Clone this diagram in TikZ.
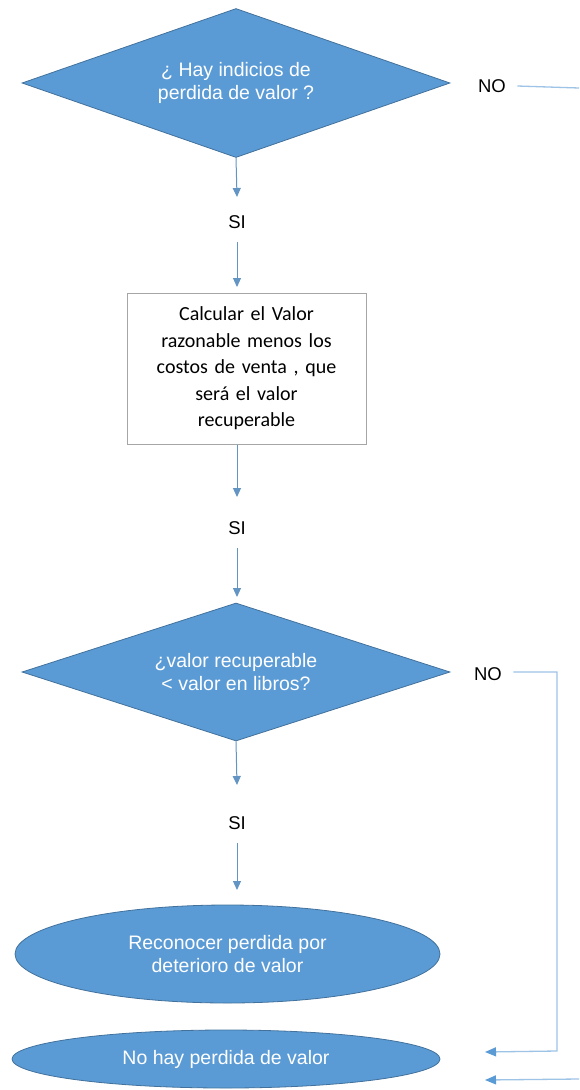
\documentclass[tikz,border=0pt]{standalone}
\usepackage{fontspec}
\setmainfont{Liberation Sans}
\newfontfamily\calfont{Carlito}
\usetikzlibrary{shapes.geometric,arrows.meta}
\definecolor{bfill}{HTML}{5B9BD5}
\definecolor{bdraw}{HTML}{41719C}
\definecolor{arr}{HTML}{5B9BD5}
\definecolor{lline}{HTML}{9DC3E6}
\tikzset{
  dec/.style={diamond,aspect=2.86,fill=bfill,draw=bdraw,line width=0.8pt,inner sep=0pt,text=white,align=center,font=\fontsize{19.5}{23.5}\selectfont},
  oval/.style={ellipse,fill=bfill,draw=bdraw,line width=0.8pt,inner sep=0pt,text=white,align=center,font=\fontsize{19.5}{22.5}\selectfont},
  procbox/.style={rectangle,draw=gray!70,line width=1pt,fill=white,align=center,font=\calfont\fontsize{20}{26.5}\selectfont},
  lbl/.style={font=\fontsize{18.5}{21}\selectfont},
  flow/.style={draw=arr!80!gray,line width=1pt,-{Triangle[width=8pt,length=9pt]}},
  back/.style={draw=lline,line width=1.3pt},
  backarr/.style={draw=lline,line width=1.3pt,-{Triangle[width=9pt,length=11pt,fill=arr,color=arr]}}
}
\begin{document}
\begin{tikzpicture}[x=1pt,y=-1pt]
\useasboundingbox (0,0) rectangle (579,1090);
\node[dec,minimum width=428pt,minimum height=149pt] (d1) at (236,83) {¿ Hay indicios de\\perdida de valor ?};
\node[lbl] (s1) at (237,222) {SI};
\node[procbox,minimum width=239pt,minimum height=151pt,text width=220pt] (p1) at (246.5,368.5) {Calcular el Valor\\razonable menos los\\costos de venta , que\\será el valor\\recuperable};
\node[lbl] (s2) at (237,528) {SI};
\node[dec,minimum width=428pt,minimum height=138pt] (d2) at (236,672) {¿valor recuperable\\< valor en libros?};
\node[lbl] (s3) at (237,823) {SI};
\node[oval,minimum width=425pt,minimum height=98pt] (e1) at (227.5,954) {Reconocer perdida por\\deterioro de valor};
\node[oval,minimum width=428pt,minimum height=58pt] (e2) at (226,1059) {No hay perdida de valor};
\node[lbl] (n1) at (492,86) {NO};
\node[lbl] (n2) at (488,674) {NO};
\coordinate (t1) at (237,197);
\coordinate (t2) at (237,287);
\coordinate (t3) at (237,497);
\coordinate (t4) at (237,597);
\coordinate (t5) at (237,785);
\coordinate (t6) at (237,890);
\coordinate (c1) at (557,672);
\coordinate (c2) at (557,1051);
\coordinate (a1) at (485,1052);
\coordinate (c3) at (579,1079);
\coordinate (a2) at (485,1080);
\coordinate (c4) at (579,88);
\draw[flow] (d1.south) -- (t1);
\draw[flow] (s1.south) ++(0,10) -- (t2);
\draw[flow] (p1.south -| t3) -- (t3);
\draw[flow] (s2.south) ++(0,10) -- (t4);
\draw[flow] (d2.south) -- (t5);
\draw[flow] (s3.south) ++(0,10) -- (t6);
\draw[back] (n1.east) ++(8,0) -- (c4);
\draw[backarr] (n2.east) ++(8,-2) -- (c1) -- (c2) -- (a1);
\draw[backarr] (c3) -- (a2);
\end{tikzpicture}
\end{document}
